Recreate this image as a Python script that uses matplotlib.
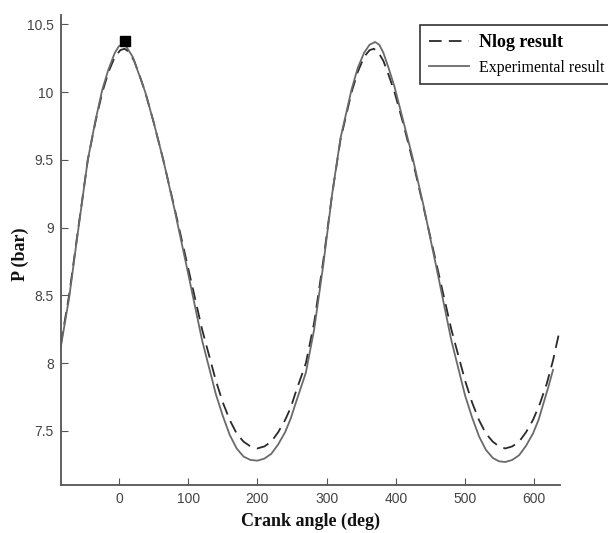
import matplotlib.pyplot as plt

# Nlog model: crank angle (deg) vs cylinder pressure (bar)
nlog_angle = [-84, -72, -60, -45, -34, -24, -15, -6, 2, 8, 14, 22, 30, 38, 50,
              64, 80, 100, 120, 140, 150, 160, 170, 180, 190, 200, 210, 220,
              230, 240, 248, 255, 270, 282, 295, 308, 320, 336, 345, 354, 362,
              368, 374, 382, 390, 398, 410, 424, 440, 460, 480, 500, 510, 520,
              530, 540, 549, 558, 568, 578, 588, 598, 608, 618, 627, 636]
nlog_p = [8.14, 8.50, 8.95, 9.50, 9.78, 10.00, 10.15, 10.26, 10.31, 10.32, 10.30,
          10.23, 10.12, 10.00, 9.78, 9.50, 9.15, 8.70, 8.25, 7.87, 7.71, 7.58,
          7.48, 7.42, 7.385, 7.37, 7.385, 7.42, 7.49, 7.58, 7.67, 7.78, 8.00,
          8.30, 8.75, 9.25, 9.65, 10.00, 10.15, 10.26, 10.31, 10.32, 10.30,
          10.23, 10.12, 10.00, 9.78, 9.50, 9.15, 8.70, 8.25, 7.87, 7.71, 7.58,
          7.48, 7.42, 7.385, 7.37, 7.385, 7.42, 7.49, 7.58, 7.70, 7.85, 8.02, 8.23]

# measured pressure
exp_angle = [-84, -72, -60, -45, -34, -24, -15, -6, 0, 5, 10, 20, 29, 38, 50,
             64, 80, 100, 120, 140, 150, 160, 170, 180, 190, 200, 210, 220,
             230, 240, 248, 255, 270, 282, 295, 308, 320, 336, 345, 354, 362,
             370, 376, 382, 390, 398, 410, 424, 440, 460, 480, 500, 510, 520,
             530, 540, 549, 558, 568, 578, 588, 598, 606, 613, 620, 627]
exp_p = [8.12, 8.48, 8.94, 9.50, 9.79, 10.02, 10.17, 10.29, 10.34, 10.35, 10.34,
         10.26, 10.13, 10.00, 9.78, 9.50, 9.14, 8.66, 8.17, 7.77, 7.61, 7.47,
         7.37, 7.31, 7.285, 7.28, 7.295, 7.33, 7.40, 7.49, 7.59, 7.70, 7.93,
         8.25, 8.72, 9.25, 9.66, 10.02, 10.18, 10.29, 10.35, 10.37, 10.35,
         10.29, 10.17, 10.04, 9.80, 9.52, 9.16, 8.67, 8.17, 7.76, 7.60, 7.46,
         7.36, 7.30, 7.275, 7.27, 7.285, 7.32, 7.39, 7.48, 7.58, 7.70, 7.82, 7.95]

peak_angle = [9]
peak_p = [10.38]

xticks = [0, 100, 200, 300, 400, 500, 600]
yticks = [7.5, 8, 8.5, 9, 9.5, 10, 10.5]
ytick_labels = ['7.5', '8', '8.5', '9', '9.5', '10', '10.5']

fig = plt.figure(figsize=(6.08, 5.33), dpi=100)
ax = fig.add_axes([0.100, 0.090, 0.821, 0.882])

ax.plot(nlog_angle, nlog_p, color='#2a2a2a', lw=1.3, ls=(0, (7, 4)), label='Nlog result')
ax.plot(exp_angle, exp_p, color='#6a6a6a', lw=1.3, ls='-', label='Experimental result')
ax.plot(peak_angle, peak_p, 's', color='black', ms=7.5)

ax.set_xlim(-84, 637)
ax.set_ylim(7.10, 10.57)
ax.set_xticks(xticks)
ax.set_yticks(yticks)
ax.set_yticklabels(ytick_labels)
ax.tick_params(direction='in', length=5, color='#555555', labelcolor='#444444',
               labelsize=10, pad=5)
for lab in ax.get_xticklabels() + ax.get_yticklabels():
    lab.set_family('Liberation Sans')
for s in ['top', 'right']:
    ax.spines[s].set_visible(False)
for s in ['left', 'bottom']:
    ax.spines[s].set_color('#555555')
    ax.spines[s].set_linewidth(1.3)

ax.set_xlabel('Crank angle (deg)', family='Liberation Serif', fontsize=13,
              fontweight='bold', color='#111111', labelpad=5)
ax.set_ylabel('P (bar)', family='Liberation Serif', fontsize=13,
              fontweight='bold', color='#111111')
ax.yaxis.set_label_coords(-0.064, 0.49)

leg = fig.legend(loc='upper left', bbox_to_anchor=(0.691, 0.953), fancybox=False,
                 edgecolor='#333333', framealpha=1, handlelength=2.5,
                 prop={'family': 'Liberation Serif', 'size': 11.5},
                 borderpad=0.55, labelspacing=0.55, handletextpad=0.65,
                 borderaxespad=0)
leg.get_frame().set_linewidth(1.2)
leg.get_texts()[0].set_fontweight('bold')
leg.get_texts()[0].set_fontsize(13)

fig.savefig('out.png', dpi=100)
